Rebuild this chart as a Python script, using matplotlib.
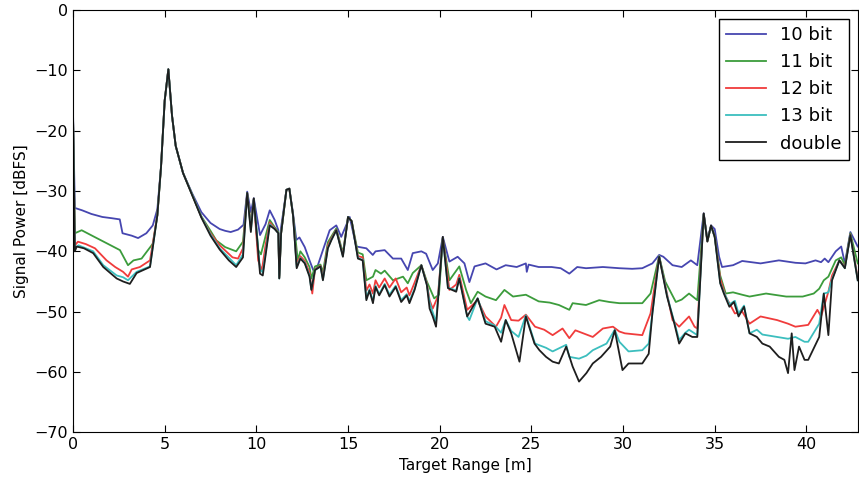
import numpy as np
import matplotlib.pyplot as plt

# (range [m], power [dBFS])
bit10 = np.array([
    (0, -17), (0.1, -32.8), (0.5, -33.2), (1.0, -33.8), (1.6, -34.3), (2.1, -34.5),
    (2.55, -34.7), (2.7, -37.0), (3.2, -37.4), (3.55, -37.8), (4.0, -37.0), (4.35, -35.7),
    (4.6, -33.0), (4.8, -26), (5.0, -15), (5.2, -9.8), (5.4, -17.5), (5.6, -22.5),
    (6.0, -27), (6.5, -30.4), (7.0, -33.5), (7.5, -35.3), (8.0, -36.3), (8.3, -36.6),
    (8.6, -36.8), (9.0, -36.4), (9.3, -35.6), (9.5, -30.1), (9.7, -33.5), (9.86, -31.2),
    (10.2, -37.3), (10.5, -35.5), (10.73, -33.2), (11.0, -34.8), (11.2, -36.5), (11.25, -44.0),
    (11.35, -36.0), (11.64, -29.8), (11.8, -29.6), (12.0, -33.7), (12.18, -38.1), (12.35, -37.7),
    (12.64, -39.3), (12.9, -41.5), (13.1, -43.1), (13.3, -42.8), (13.63, -39.8), (14.0, -36.5),
    (14.36, -35.7), (14.63, -37.6), (15.09, -34.3), (15.45, -39.2), (16.0, -39.5), (16.35, -40.6),
    (16.5, -40.0), (17.0, -39.8), (17.45, -41.2), (17.9, -41.2), (18.26, -43.1), (18.53, -40.3),
    (19.0, -40.0), (19.26, -40.4), (19.62, -43.1), (19.9, -42.0), (20.17, -37.6), (20.53, -41.7),
    (20.98, -40.9), (21.35, -42.0), (21.62, -45.1), (21.9, -42.5), (22.5, -42.0), (23.1, -43.0),
    (23.6, -42.3), (24.2, -42.6), (24.7, -42.0), (24.75, -43.4), (24.85, -42.2), (25.4, -42.6),
    (26.1, -42.6), (26.6, -42.8), (27.07, -43.7), (27.5, -42.6), (27.98, -42.8), (28.9, -42.6),
    (29.8, -42.8), (30.5, -42.9), (31.05, -42.8), (31.6, -42.0), (31.97, -40.6), (32.2, -40.9),
    (32.7, -42.3), (33.2, -42.6), (33.7, -41.5), (34.05, -42.3), (34.4, -33.7), (34.6, -38.1),
    (34.8, -35.7), (35.0, -36.3), (35.24, -40.9), (35.4, -42.6), (36.0, -42.3), (36.5, -41.6),
    (37.5, -42.0), (38.5, -41.5), (39.4, -41.9), (39.95, -42.0), (40.5, -41.5), (40.8, -41.8),
    (41.0, -41.2), (41.2, -41.8), (41.6, -40.0), (41.9, -39.2), (42.1, -42.0), (42.4, -36.8),
    (42.8, -39.2),
])

bit11 = np.array([
    (0, -17.5), (0.1, -37), (0.47, -36.5), (1.1, -37.5), (1.8, -38.6), (2.56, -39.8),
    (3.0, -42.3), (3.3, -41.5), (3.74, -41.2), (4.36, -38.7), (4.6, -34), (4.8, -26),
    (5.0, -15), (5.2, -9.8), (5.4, -17.5), (5.6, -22.5), (6.0, -27), (6.5, -30.6),
    (7.0, -34.2), (7.5, -36.6), (7.82, -38.2), (8.3, -39.3), (8.9, -40.0), (9.27, -38.4),
    (9.5, -30.5), (9.7, -35.5), (9.86, -31.5), (10.1, -39.8), (10.25, -40.5), (10.5, -37.5),
    (10.73, -34.8), (11.0, -36.0), (11.2, -36.8), (11.25, -44.3), (11.35, -37), (11.64, -29.8),
    (11.8, -29.6), (12.0, -34), (12.26, -41.5), (12.4, -40.0), (12.64, -41.0), (12.9, -42.6),
    (13.0, -44.5), (13.2, -42.5), (13.5, -42.2), (13.63, -43.5), (13.9, -38.5), (14.1, -37.5),
    (14.36, -36.2), (14.72, -40.3), (15.0, -34.3), (15.2, -35), (15.54, -40.2), (15.8, -40.5),
    (16.0, -44.8), (16.36, -44.2), (16.5, -43.1), (16.8, -43.7), (17.0, -43.2), (17.45, -44.8),
    (18.0, -44.2), (18.26, -45.3), (18.53, -43.6), (19.0, -42.3), (19.3, -45.0), (19.7, -47.8),
    (19.96, -47.2), (20.17, -37.8), (20.53, -44.8), (21.07, -42.5), (21.44, -46.4), (21.7, -48.6),
    (22.07, -46.7), (22.5, -47.5), (23.07, -48.1), (23.53, -46.4), (24.0, -47.5), (24.7, -47.2),
    (25.4, -48.3), (26.0, -48.5), (26.5, -48.9), (27.07, -49.7), (27.25, -48.6), (27.98, -48.9),
    (28.7, -48.1), (29.25, -48.4), (29.8, -48.6), (30.5, -48.6), (31.05, -48.6), (31.5, -47),
    (31.97, -40.8), (32.3, -45), (32.88, -48.4), (33.2, -48), (33.6, -47.0), (34.05, -48.1),
    (34.4, -33.9), (34.6, -38.3), (34.8, -35.8), (35.0, -37.5), (35.3, -44), (35.6, -47.0),
    (36.0, -46.8), (36.5, -47.2), (36.9, -47.5), (37.8, -47.0), (38.9, -47.5), (39.8, -47.5),
    (40.4, -47), (40.7, -46.2), (40.95, -44.8), (41.2, -44.2), (41.6, -41.5), (41.9, -41),
    (42.1, -42.3), (42.4, -37), (42.8, -42),
])

bit12 = np.array([
    (0, -17.5), (0.1, -39), (0.27, -38.4), (0.7, -38.8), (1.2, -39.5), (1.83, -41.5),
    (2.3, -42.6), (2.73, -43.4), (3.0, -44.2), (3.2, -43), (3.65, -42.6), (4.2, -41.5),
    (4.6, -34), (4.8, -26), (5.0, -15), (5.2, -9.8), (5.4, -17.5), (5.6, -22.5),
    (6.0, -27), (6.5, -30.6), (7.0, -34.3), (7.5, -37), (8.0, -39), (8.7, -41.0),
    (9.0, -41.2), (9.27, -39.5), (9.5, -30.3), (9.7, -36), (9.86, -31.3), (10.1, -41.5),
    (10.3, -43.2), (10.5, -39), (10.73, -35.2), (11.0, -36.2), (11.2, -37), (11.25, -44.4),
    (11.35, -37), (11.64, -29.8), (11.8, -29.6), (12.0, -34), (12.2, -42.2), (12.4, -40.8),
    (12.64, -41.6), (12.9, -43.5), (13.05, -47), (13.2, -43), (13.5, -42.4), (13.63, -44.3),
    (13.9, -39), (14.1, -37.8), (14.36, -36.4), (14.72, -40.6), (15.0, -34.3), (15.2, -35),
    (15.54, -40.8), (15.8, -41), (16.0, -46.5), (16.17, -45.5), (16.36, -47.0), (16.5, -44.8),
    (16.7, -46.0), (17.0, -44.5), (17.26, -46.0), (17.6, -44.5), (17.9, -46.8), (18.2, -46.0),
    (18.35, -47.3), (18.63, -45.2), (19.0, -42.3), (19.3, -45.3), (19.45, -48.1), (19.62, -49.5),
    (19.9, -47.5), (20.17, -37.7), (20.53, -46.4), (20.9, -45.5), (21.07, -43.9), (21.5, -49.7),
    (22.07, -48.1), (22.5, -50.8), (23.07, -52.5), (23.35, -51), (23.53, -48.9), (23.9, -51.4),
    (24.3, -51.5), (24.7, -50.5), (25.2, -52.5), (25.7, -53), (26.16, -53.9), (26.7, -52.8),
    (27.07, -54.4), (27.4, -53.1), (28.35, -54.2), (28.9, -52.8), (29.45, -52.5), (29.8, -53.3),
    (30.1, -53.6), (31.05, -53.9), (31.5, -50.3), (31.97, -40.8), (32.4, -47), (32.7, -51.4),
    (33.06, -52.5), (33.6, -50.8), (33.9, -52.5), (34.05, -52.8), (34.4, -33.8), (34.6, -38.3),
    (34.8, -35.8), (35.0, -37.6), (35.3, -44.5), (35.6, -47.5), (35.8, -48.6), (36.1, -50.3),
    (36.5, -50), (36.9, -52.0), (37.5, -50.8), (38.4, -51.4), (39.0, -52), (39.4, -52.5),
    (40.1, -52.2), (40.6, -49.7), (40.8, -50.8), (41.2, -46.7), (41.4, -44), (41.8, -41.5),
    (42.1, -42.6), (42.4, -37.2), (42.8, -44.5),
])

bit13 = np.array([
    (0, -17.5), (0.1, -39.5), (0.3, -39), (1.1, -40), (1.65, -42.3), (2.38, -44.0),
    (2.73, -44.3), (3.0, -44.8), (3.47, -43.4), (4.2, -42.5), (4.6, -34), (4.8, -26),
    (5.0, -15), (5.2, -9.8), (5.4, -17.5), (5.6, -22.5), (6.0, -27), (6.5, -30.6),
    (7.0, -34.3), (7.5, -37.2), (8.0, -39.5), (8.9, -42.3), (9.27, -40.5), (9.5, -30.3),
    (9.7, -36.5), (9.86, -31.3), (10.2, -43), (10.35, -43.5), (10.73, -35.5), (11.0, -36.3),
    (11.2, -37), (11.25, -44.5), (11.35, -37), (11.64, -29.8), (11.8, -29.6), (12.0, -34),
    (12.2, -42.6), (12.4, -41.1), (12.64, -41.9), (12.9, -44), (13.0, -46.3), (13.2, -43.1),
    (13.5, -42.5), (13.63, -44.7), (13.9, -39.4), (14.1, -38), (14.36, -36.5), (14.72, -40.8),
    (15.0, -34.3), (15.2, -35), (15.54, -41.1), (15.8, -41.4), (16.0, -47.8), (16.17, -46.3),
    (16.36, -48.3), (16.5, -45.7), (16.7, -47.1), (17.0, -45.4), (17.26, -47.2), (17.6, -45.7),
    (17.9, -48.1), (18.2, -47.1), (18.35, -48.3), (18.63, -46.2), (19.0, -42.3), (19.3, -45.5),
    (19.45, -48.5), (19.8, -51.8), (20.17, -37.7), (20.45, -46), (20.9, -46.5), (21.07, -44.4),
    (21.5, -50.8), (21.62, -51.4), (22.07, -47.8), (22.5, -51.6), (23.0, -52.3), (23.35, -53.5),
    (23.6, -51.4), (23.9, -53.2), (24.3, -54.2), (24.7, -50.6), (25.2, -55.3), (25.8, -56),
    (26.16, -56.6), (26.9, -55.5), (27.07, -57.5), (27.6, -57.8), (28.0, -57.3), (28.35, -56.4),
    (29.1, -55.3), (29.55, -53), (29.8, -55), (30.3, -56.6), (31.05, -56.4), (31.4, -55.3),
    (31.6, -50.3), (31.97, -40.8), (32.4, -47.3), (32.8, -51.8), (33.06, -54.7), (33.4, -53.5),
    (33.6, -53.0), (34.05, -53.9), (34.4, -33.8), (34.6, -38.3), (34.8, -35.8), (35.0, -37.6),
    (35.3, -45.2), (35.5, -46.8), (35.8, -48.8), (36.1, -48.2), (36.3, -50.3), (36.6, -49),
    (36.9, -53.6), (37.3, -53.0), (37.6, -53.8), (38.4, -54.2), (39.0, -54.5), (39.4, -54.2),
    (39.9, -55), (40.1, -55.0), (40.7, -52), (40.95, -47), (41.2, -46.8), (41.4, -44.6),
    (41.8, -41.5), (42.1, -42.8), (42.4, -37.3), (42.8, -44.8),
])

double = np.array([
    (0, -17.5), (0.1, -40), (0.2, -39.2), (0.6, -39.5), (1.1, -40.3), (1.65, -42.6),
    (2.38, -44.5), (2.73, -45.0), (3.1, -45.4), (3.47, -43.6), (4.2, -42.6), (4.6, -34),
    (4.8, -26), (5.0, -15), (5.2, -9.8), (5.4, -17.5), (5.6, -22.5), (6.0, -27),
    (6.5, -30.7), (7.0, -34.4), (7.5, -37.4), (8.0, -39.7), (8.5, -41.5), (8.9, -42.6),
    (9.27, -41), (9.5, -30.3), (9.7, -36.8), (9.86, -31.2), (10.2, -43.7), (10.35, -44),
    (10.73, -35.7), (11.0, -36.3), (11.2, -37), (11.25, -44.5), (11.35, -37), (11.64, -29.8),
    (11.8, -29.6), (12.0, -34), (12.2, -42.8), (12.4, -41.2), (12.64, -42.0), (12.9, -44.2),
    (13.0, -46.4), (13.2, -43.1), (13.5, -42.5), (13.63, -44.8), (13.9, -39.5), (14.1, -38.1),
    (14.36, -36.5), (14.72, -40.9), (15.0, -34.3), (15.2, -35.0), (15.54, -41.2), (15.8, -41.5),
    (16.0, -48.1), (16.17, -46.5), (16.36, -48.6), (16.5, -45.9), (16.7, -47.3), (17.0, -45.6),
    (17.26, -47.5), (17.6, -45.9), (17.9, -48.4), (18.2, -47.3), (18.35, -48.6), (18.63, -46.4),
    (19.0, -42.3), (19.3, -45.6), (19.45, -49.5), (19.62, -50.8), (19.8, -52.5), (20.17, -37.6),
    (20.45, -46.1), (20.9, -46.7), (21.07, -44.5), (21.5, -50.8), (22.07, -47.8), (22.5, -52.0),
    (23.0, -52.5), (23.35, -55.0), (23.6, -51.4), (23.9, -53.6), (24.35, -58.3), (24.7, -50.8),
    (25.17, -55.3), (25.44, -56.4), (25.8, -57.5), (26.16, -58.3), (26.5, -58.6), (26.9, -55.8),
    (27.25, -59.1), (27.6, -61.6), (28.0, -60.2), (28.35, -58.6), (28.8, -57.5), (29.3, -55.8),
    (29.55, -53.1), (29.8, -57), (29.97, -59.7), (30.3, -58.6), (31.05, -58.6), (31.4, -57.0),
    (31.6, -50.3), (31.97, -40.9), (32.4, -47.5), (32.8, -52.0), (33.06, -55.3), (33.4, -53.6),
    (33.78, -54.2), (34.05, -54.2), (34.4, -33.7), (34.6, -38.4), (34.8, -35.7), (35.0, -37.6),
    (35.3, -45.3), (35.5, -47.0), (35.8, -49.2), (36.05, -48.4), (36.3, -50.8), (36.6, -49.2),
    (36.9, -53.6), (37.3, -54.2), (37.6, -55.3), (38.0, -55.8), (38.5, -57.5), (38.8, -58.0),
    (39.0, -60.2), (39.2, -53.6), (39.35, -59.7), (39.6, -55.8), (39.9, -58.0), (40.1, -58.0),
    (40.7, -54.2), (40.95, -47.0), (41.2, -53.9), (41.4, -44.8), (41.8, -41.5), (42.1, -42.8),
    (42.4, -37.3), (42.8, -44.8),
])

labels = ["10 bit", "11 bit", "12 bit", "13 bit", "double"]
colors = ["#4646b0", "#3c9c3c", "#f03c3c", "#3cbebe", "#1e1e1e"]
series = [bit10, bit11, bit12, bit13, double]

fig = plt.figure(figsize=(8.59, 4.84), dpi=100)
ax = fig.add_axes([0.085, 0.107, 0.9135, 0.872])

for s, lab, c in zip(series, labels, colors):
    ax.plot(s[:, 0], s[:, 1], color=c, lw=1.3, label=lab)

ax.set_xlim(0, 42.8)
ax.set_ylim(-70, 0)
ax.set_xticks(np.arange(0, 45, 5))
ax.set_yticks(np.arange(-70, 1, 10))
ax.tick_params(direction="in", top=True, right=True, labelsize=11.5, length=5)
ax.set_xlabel("Target Range [m]", fontsize=11)
ax.set_ylabel("Signal Power [dBFS]", fontsize=11)

leg = ax.legend(loc="upper right", fontsize=13, handlelength=2.2, borderaxespad=0.5,
                fancybox=False, edgecolor="black", framealpha=1)
leg.get_frame().set_linewidth(1.0)

fig.savefig("out.png", dpi=100)
